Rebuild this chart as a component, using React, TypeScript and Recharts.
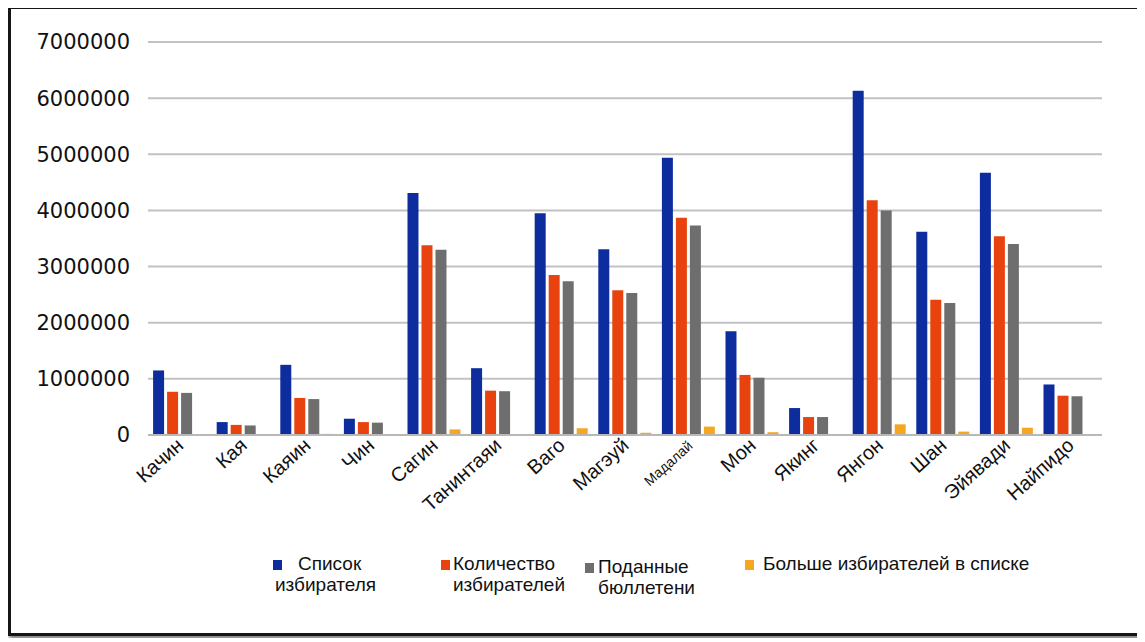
import React from 'react';
import { BarChart, Bar, XAxis, YAxis, CartesianGrid, Legend } from 'recharts';

// regions (order as on the chart)
const regions = [
  'Качин', 'Кая', 'Каяин', 'Чин', 'Сагин', 'Танинтаяи', 'Ваго', 'Магэуй',
  'Мадалай', 'Мон', 'Якинг', 'Янгон', 'Шан', 'Эйявади', 'Найпидо',
];

const voterList = [
  1150000, 230000, 1250000, 290000, 4310000, 1190000, 3950000, 3310000,
  4940000, 1850000, 480000, 6130000, 3620000, 4670000, 900000,
];
const voterCount = [
  770000, 180000, 660000, 230000, 3380000, 790000, 2850000, 2580000,
  3870000, 1070000, 320000, 4180000, 2410000, 3540000, 700000,
];
const ballotsCast = [
  750000, 170000, 640000, 220000, 3300000, 780000, 2740000, 2530000,
  3730000, 1020000, 320000, 4000000, 2350000, 3400000, 690000,
];
const surplusOnList = [
  0, 0, 20000, 0, 100000, 0, 120000, 40000,
  150000, 50000, 0, 190000, 60000, 130000, 0,
];

const yTicks = [0, 1000000, 2000000, 3000000, 4000000, 5000000, 6000000, 7000000];

const seriesNames = [
  'Список избирателя',
  'Количество избирателей',
  'Поданные бюллетени',
  'Больше избирателей в списке',
];
const colors = ['#0d2d9e', '#e8430f', '#6e6e6e', '#f5a623'];

const data = regions.map((name, i) => ({
  name,
  list: voterList[i],
  count: voterCount[i],
  ballots: ballotsCast[i],
  surplus: surplusOnList[i],
}));

const font = '"Liberation Sans", Arial, sans-serif';

const XTick = (props: any) => {
  const { x, y, payload } = props;
  const small = payload.value === 'Мадалай';
  const ax = x + 5;
  const ay = y + 4;
  return (
    <text
      x={ax}
      y={ay}
      transform={`rotate(-42 ${ax} ${ay})`}
      textAnchor="end"
      fontSize={small ? 14 : 20}
      fontFamily={font}
      fill="#111"
    >
      {payload.value}
    </text>
  );
};

// legend layout: marker left, text left, text indent, extra top
const legendLayout = [
  { marker: 262, text: 264, indent: 23, top: 0 },
  { marker: 430, text: 442, indent: 0, top: 0 },
  { marker: 574, text: 587, indent: 0, top: 3 },
  { marker: 734, text: 752, indent: 0, top: 0 },
];

const LegendContent = () => (
  <div style={{ position: 'relative', width: 1127, height: 60, fontFamily: font, fontSize: 19, color: '#111' }}>
    {seriesNames.map((name, i) => {
      const l = legendLayout[i];
      const words = name.split(' ');
      const lines = i === 3 ? [name] : [words[0], words.slice(1).join(' ')];
      return (
        <React.Fragment key={name}>
          <div
            style={{
              position: 'absolute',
              left: l.marker,
              top: 6 + l.top,
              width: 9,
              height: 10,
              background: colors[i],
            }}
          />
          <div
            style={{
              position: 'absolute',
              left: l.text,
              top: l.top - 1,
              lineHeight: '21px',
              whiteSpace: 'nowrap',
            }}
          >
            {lines.map((t, k) => (
              <div key={k} style={{ paddingLeft: k === 0 ? l.indent : 0 }}>{t}</div>
            ))}
          </div>
        </React.Fragment>
      );
    })}
  </div>
);

export default function App() {
  return (
    <div
      style={{
        position: 'relative',
        top: -2,
        width: 1133,
        height: 630,
        border: '3px solid #161616',
        boxSizing: 'border-box',
        background: '#fff',
        boxShadow: '1px 4px 4px #8a8a8a',
      }}
    >
      <BarChart
        width={1127}
        height={624}
        data={data}
        margin={{ top: 33, right: 36, left: 0, bottom: 98 }}
        barCategoryGap="8%"
        barGap={3}
      >
        <CartesianGrid vertical={false} stroke="#c2c2c2" strokeWidth={2} />
        <XAxis
          dataKey="name"
          interval={0}
          height={100}
          tickLine={false}
          axisLine={{ stroke: '#b8b8b8', strokeWidth: 2 }}
          tick={<XTick />}
        />
        <YAxis
          width={137}
          domain={[0, 7000000]}
          ticks={yTicks}
          interval={0}
          axisLine={false}
          tickLine={false}
          tickMargin={12}
          tick={{ fontSize: 21, fontFamily: '"DejaVu Sans", Verdana, sans-serif', fill: '#111' }}
        />
        <Legend
          layout="horizontal"
          verticalAlign="middle"
          align="center"
          wrapperStyle={{ top: 545, left: 0, width: 1127 }}
          content={<LegendContent />}
        />
        <Bar dataKey="list" name={seriesNames[0]} fill={colors[0]} isAnimationActive={false} />
        <Bar dataKey="count" name={seriesNames[1]} fill={colors[1]} isAnimationActive={false} />
        <Bar dataKey="ballots" name={seriesNames[2]} fill={colors[2]} isAnimationActive={false} />
        <Bar dataKey="surplus" name={seriesNames[3]} fill={colors[3]} isAnimationActive={false} />
      </BarChart>
    </div>
  );
}
